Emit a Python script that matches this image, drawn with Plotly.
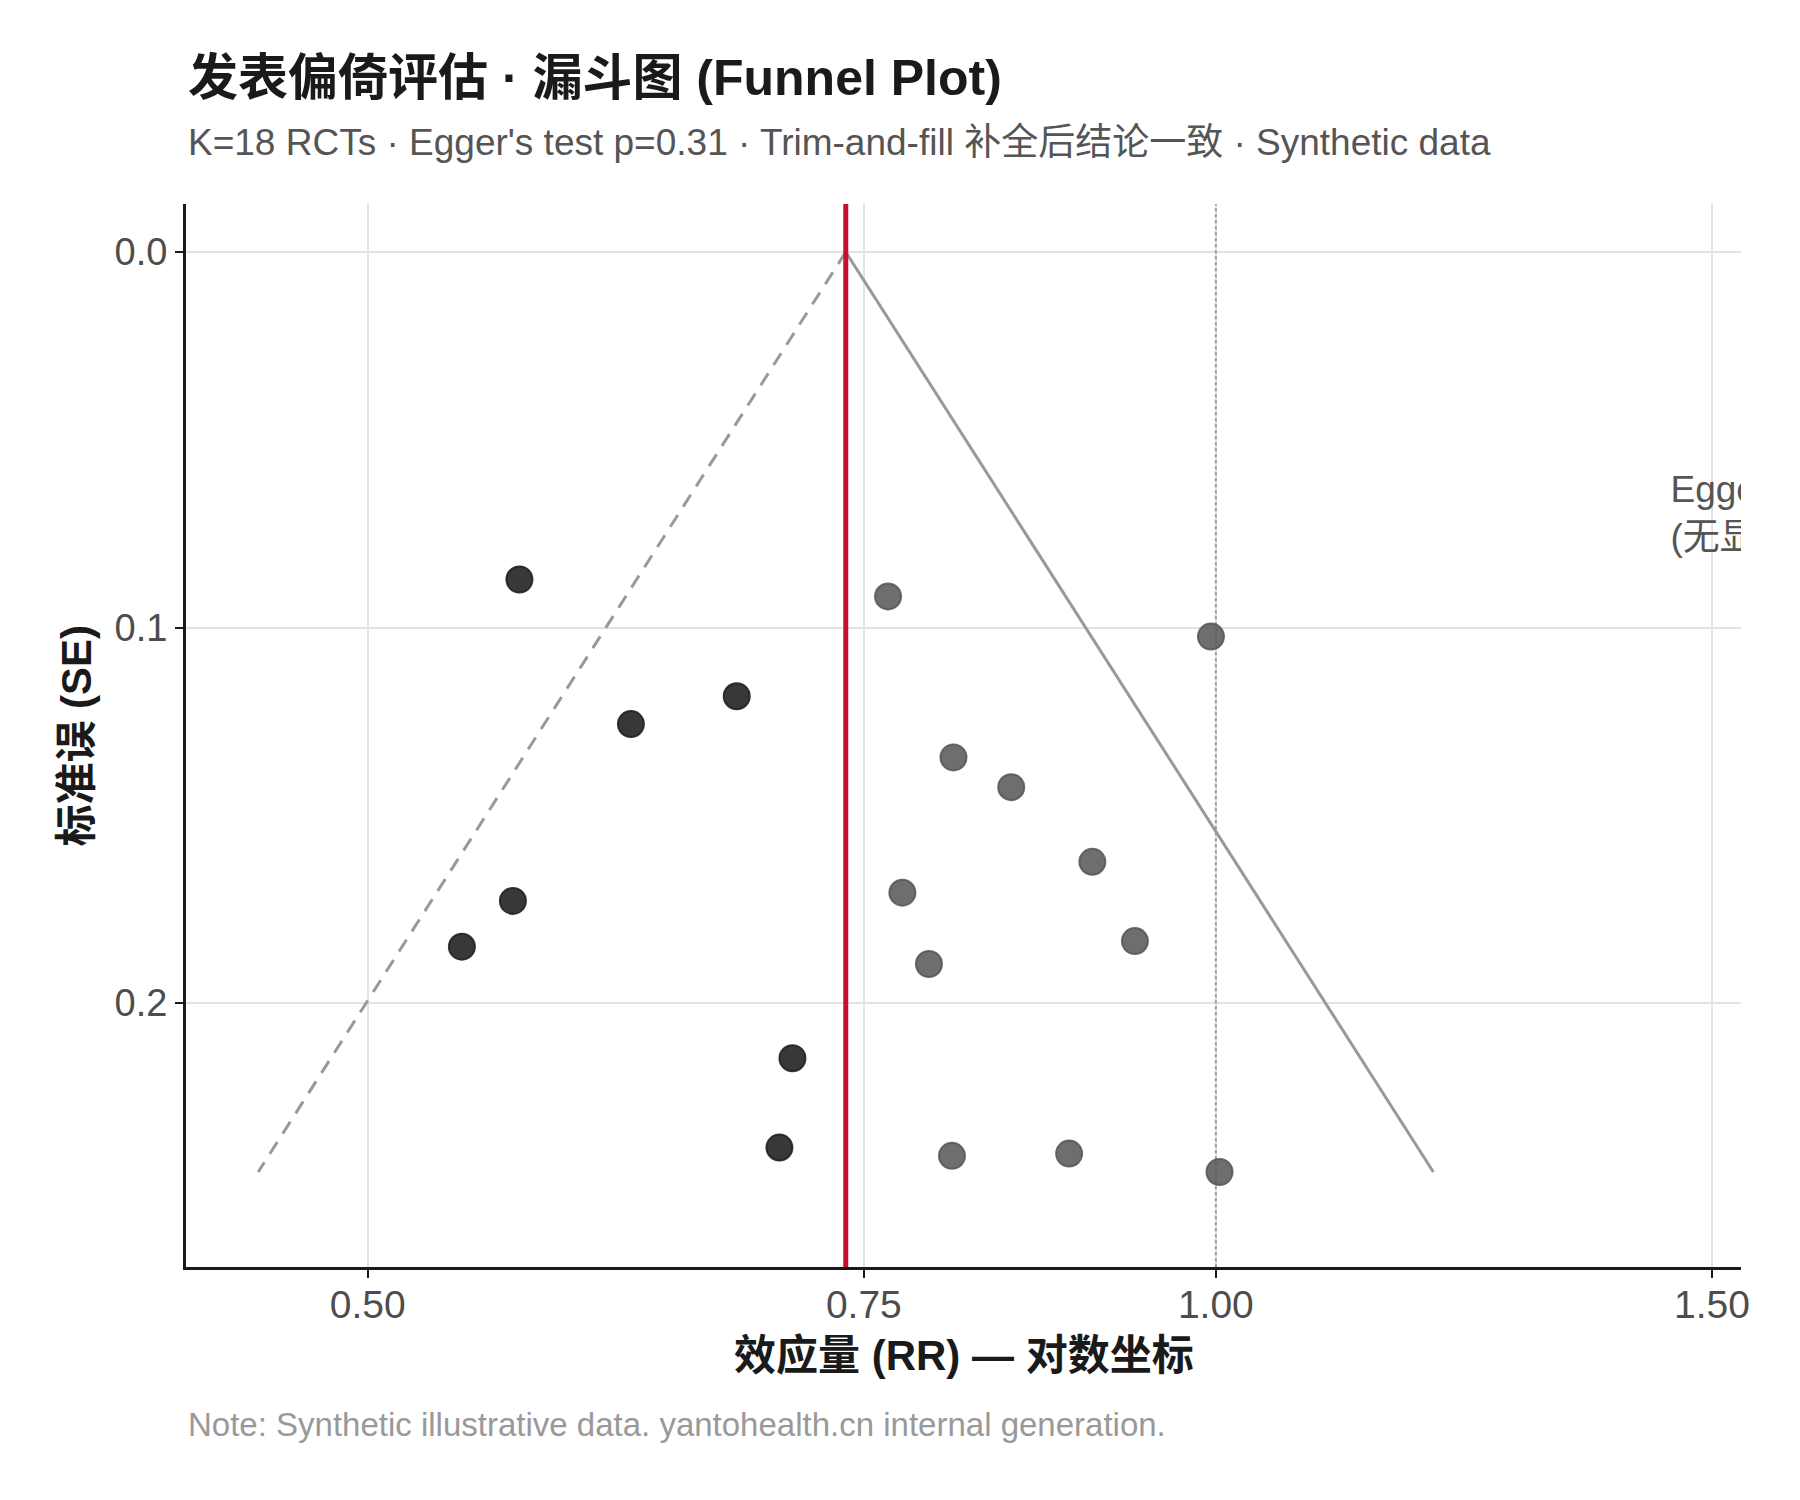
import plotly.graph_objects as go
import math

# ---- data ----
pooled_rr = 0.739
se_max = 0.245

left_rr = [0.566, 0.676, 0.620, 0.563, 0.540, 0.7075, 0.700]
left_se = [0.0872, 0.1183, 0.1257, 0.1728, 0.185, 0.2147, 0.2385]

right_rr = [0.765, 0.996, 0.807, 0.846, 0.904, 0.774, 0.936, 0.791, 0.806, 0.887, 1.003]
right_se = [0.0917, 0.1024, 0.1346, 0.1425, 0.1624, 0.1706, 0.1835, 0.1896, 0.2407, 0.2401, 0.245]

x_tickvals = [0.5, 0.75, 1.0, 1.5]
x_ticktext = ["0.50", "0.75", "1.00", "1.50"]
y_tickvals = [0.0, 0.1, 0.2]
y_ticktext = ["0.0", "0.1", "0.2"]

lo_rr = math.exp(math.log(pooled_rr) - 1.96 * se_max)
hi_rr = math.exp(math.log(pooled_rr) + 1.96 * se_max)

FONT = "Liberation Sans, Arial, Noto Sans CJK SC, sans-serif"

fig = go.Figure()

# funnel left (dashed)
fig.add_trace(go.Scatter(x=[pooled_rr, lo_rr], y=[0, se_max], mode="lines",
                         line=dict(color="#999999", width=3, dash="14px,10px"),
                         showlegend=False, hoverinfo="skip"))
# funnel right (solid)
fig.add_trace(go.Scatter(x=[pooled_rr, hi_rr], y=[0, se_max], mode="lines",
                         line=dict(color="#999999", width=3),
                         showlegend=False, hoverinfo="skip"))
# null line (dotted)
fig.add_trace(go.Scatter(x=[1.0, 1.0], y=[-0.05, 0.4], mode="lines",
                         line=dict(color="#999999", width=2, dash="dot"),
                         showlegend=False, hoverinfo="skip"))
# pooled line (red)
fig.add_trace(go.Scatter(x=[pooled_rr, pooled_rr], y=[-0.05, 0.4], mode="lines",
                         line=dict(color="#c8102e", width=5),
                         showlegend=False, hoverinfo="skip"))

fig.add_trace(go.Scatter(x=left_rr, y=left_se, mode="markers",
                         marker=dict(size=26, color="rgba(34,34,34,0.9)",
                                     line=dict(color="rgba(34,34,34,0.9)", width=2)),
                         showlegend=False))
fig.add_trace(go.Scatter(x=right_rr, y=right_se, mode="markers",
                         marker=dict(size=26, color="rgba(85,85,85,0.85)",
                                     line=dict(color="rgba(85,85,85,0.85)", width=2)),
                         showlegend=False))

# clipped annotation text inside the panel
fig.add_trace(go.Scatter(x=[1.45], y=[0.0705], mode="text",
                         text=["Egger's test p=0.31<br>(无显著发表偏倚)"],
                         textposition="middle right",
                         textfont=dict(family=FONT, size=37, color="#555555"),
                         cliponaxis=True, showlegend=False, hoverinfo="skip"))

fig.update_layout(
    width=1800, height=1500,
    margin=dict(l=186, r=59, t=204, b=233),
    paper_bgcolor="white", plot_bgcolor="white",
    font=dict(family=FONT, color="#1a1a1a"),
    xaxis=dict(type="log", range=[math.log10(0.431), math.log10(1.536)],
               tickvals=x_tickvals, ticktext=x_ticktext,
               showgrid=True, gridcolor="#e3e3e3", gridwidth=2,
               showline=True, linecolor="#1a1a1a", linewidth=3,
               ticks="outside", ticklen=8, tickwidth=2, tickcolor="#1a1a1a",
               ticklabelstandoff=-7,
               tickfont=dict(size=39, color="#4d4d4d"), zeroline=False),
    yaxis=dict(range=[0.2703, -0.0128],
               tickvals=y_tickvals, ticktext=y_ticktext,
               showgrid=True, gridcolor="#e3e3e3", gridwidth=2,
               showline=True, linecolor="#1a1a1a", linewidth=3,
               ticks="outside", ticklen=8, tickwidth=2, tickcolor="#1a1a1a",
               tickfont=dict(size=38, color="#4d4d4d"), zeroline=False),
    annotations=[
        dict(text="<b>发表偏倚评估 · 漏斗图 (Funnel Plot)</b>", xref="paper", yref="paper",
             x=0, y=1.1185, xanchor="left", yanchor="middle", showarrow=False,
             font=dict(size=50, color="#1a1a1a", family=FONT)),
        dict(text="K=18 RCTs · Egger's test p=0.31 · Trim-and-fill 补全后结论一致 · Synthetic data",
             xref="paper", yref="paper", x=0, y=1.0583, xanchor="left", yanchor="middle",
             showarrow=False, font=dict(size=37, color="#555555", family=FONT)),
        dict(text="<b>效应量 (RR) — 对数坐标</b>", xref="paper", yref="paper",
             x=0.5, y=-0.0828, xanchor="center", yanchor="middle", showarrow=False,
             font=dict(size=42, color="#1a1a1a", family=FONT)),
        dict(text="<b>标准误 (SE)</b>", xref="paper", yref="paper", textangle=-90,
             x=-0.0707, y=0.5, xanchor="center", yanchor="middle", showarrow=False,
             font=dict(size=42, color="#1a1a1a", family=FONT)),
        dict(text="Note: Synthetic illustrative data. yantohealth.cn internal generation.",
             xref="paper", yref="paper", x=0, y=-0.1486, xanchor="left", yanchor="middle",
             showarrow=False, font=dict(size=33, color="#999999", family=FONT)),
    ],
)

fig.write_html("out.html")
